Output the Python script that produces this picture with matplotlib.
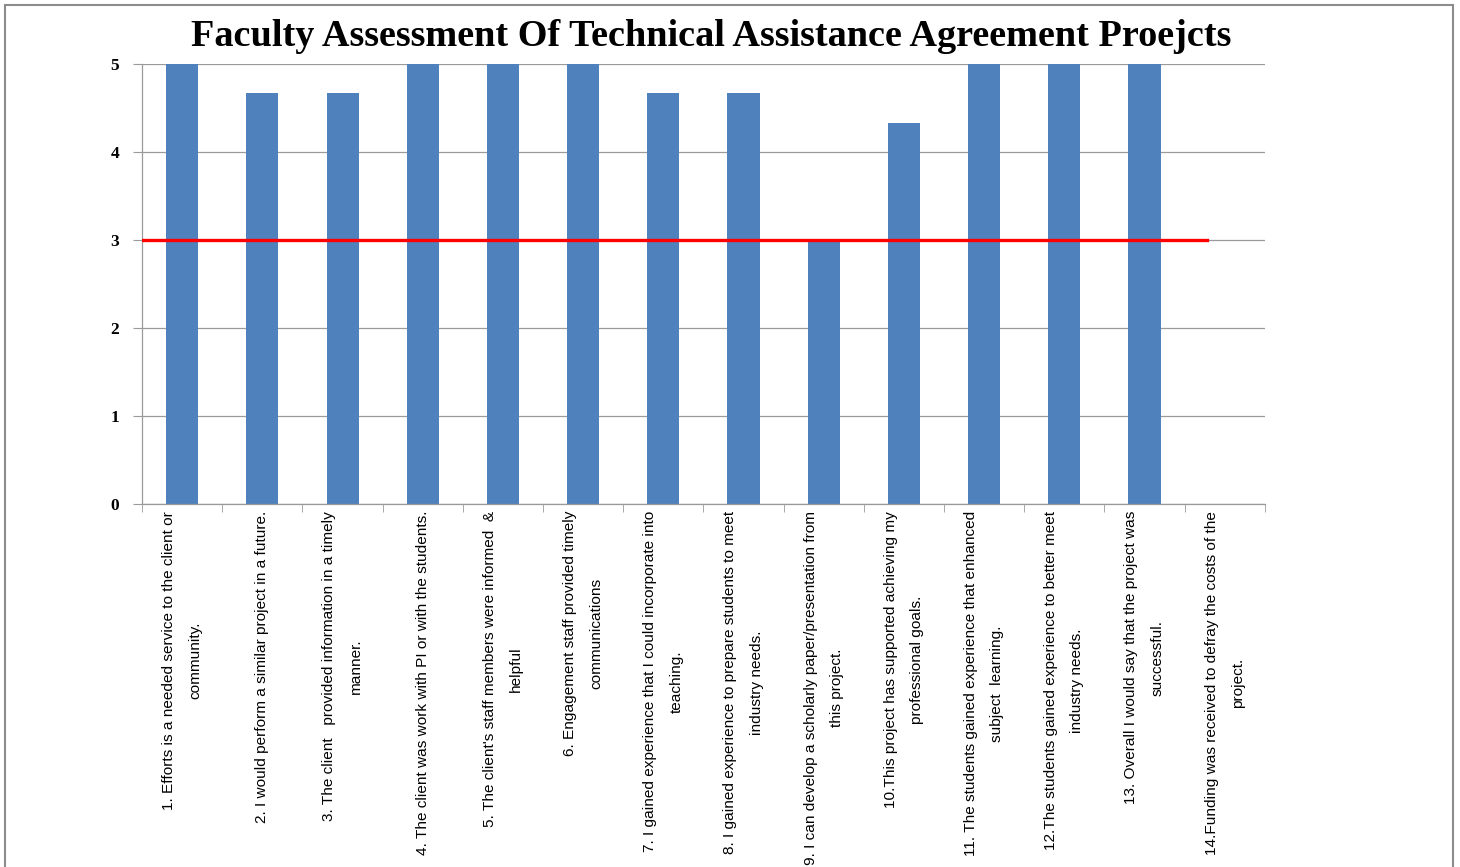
"""Faculty assessment of technical assistance agreement projects: bar chart with threshold line."""

import matplotlib

matplotlib.use("Agg")
import matplotlib.pyplot as plt
import numpy as np
from matplotlib.patches import Rectangle

TITLE = "Faculty Assessment Of Technical Assistance Agreement Proejcts"

LABELS = [
    "1. Efforts is a needed service to the client or\ncommunity.",
    "2. I would perform a similar project in a future.",
    "3. The client   provided information in a timely\nmanner.",
    "4. The client was work with PI or with the students.",
    "5. The client's staff members were informed  &\nhelpful",
    "6. Engagement staff provided timely\ncommunications",
    "7. I gained experience that I could incorporate into\nteaching.",
    "8. I gained experience to prepare students to meet\nindustry needs.",
    "9. I can develop a scholarly paper/presentation from\nthis project.",
    "10.This project has supported achieving my\nprofessional goals.",
    "11. The students gained experience that enhanced\nsubject  learning.",
    "12.The students gained experience to better meet\nindustry needs.",
    "13. Overall I would say that the project was\nsuccessful.",
    "14.Funding was received to defray the costs of the\nproject.",
]
SCORES = [5, 4.67, 4.67, 5, 5, 5, 4.67, 4.67, 3, 4.33, 5, 5, 5, 0]

THRESHOLD = 3
THRESHOLD_SPAN = [-0.5, 12.78]

BAR_COLOR = "#4F81BD"
AXIS_GRAY = "#9a9a9a"


def main() -> None:
    fig = plt.figure(figsize=(14.6, 8.67), dpi=100)
    ax = fig.add_axes([0.0973, 0.4187, 0.769, 0.5075])

    x = np.arange(len(SCORES))
    ax.bar(x, SCORES, width=0.4, color=BAR_COLOR, zorder=2)
    ax.plot(THRESHOLD_SPAN, [THRESHOLD, THRESHOLD], color="#ff0000", lw=2.4, zorder=3)

    ax.set_xlim(-0.5, len(SCORES) - 0.5)
    ax.set_ylim(0, 5)
    ax.set_yticks(range(6))
    ax.set_yticklabels([str(v) for v in range(6)], family="Liberation Serif",
                       fontweight="bold", fontsize=12.5)
    ax.grid(axis="y", color=AXIS_GRAY, lw=0.9, zorder=0)

    ax.set_xticks(x)
    ax.set_xticklabels(LABELS, rotation=90, ha="center", va="top", fontsize=11.1,
                       family="Liberation Sans", linespacing=2.1,
                       multialignment="center")
    ax.tick_params(axis="x", which="major", length=0, pad=5)
    ax.set_xticks(np.arange(-0.5, len(SCORES)), minor=True)
    ax.tick_params(axis="x", which="minor", length=6, color=AXIS_GRAY)
    ax.tick_params(axis="y", length=6.5, color=AXIS_GRAY, pad=10)

    for side in ("top", "right"):
        ax.spines[side].set_visible(False)
    for side in ("left", "bottom"):
        ax.spines[side].set_color(AXIS_GRAY)
        ax.spines[side].set_linewidth(0.9)

    fig.text(0.487, 0.958, TITLE, ha="center", va="center", family="Liberation Serif",
             fontweight="bold", fontsize=27.5)

    fig.patches.append(Rectangle((0.0034, -0.05), 0.9918, 1.044, transform=fig.transFigure,
                                 fill=False, edgecolor="#8c8c8c", lw=1.5))

    fig.savefig("out.png", dpi=100)
    plt.close(fig)


if __name__ == "__main__":
    main()
